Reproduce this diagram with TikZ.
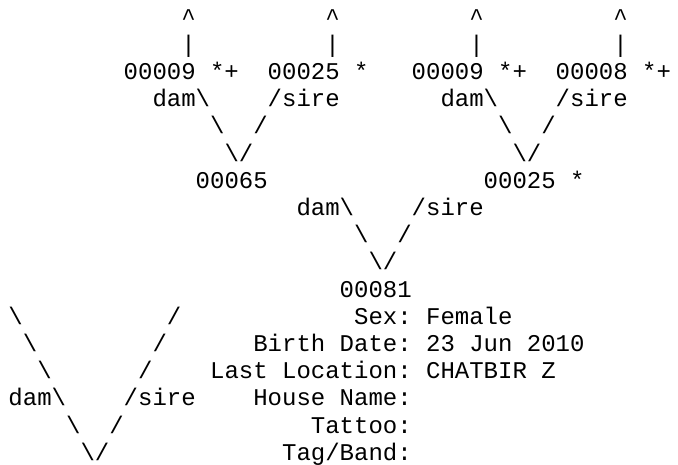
\documentclass[tikz,border=0pt]{standalone}
\usepackage{fontspec}
\newfontfamily\pedmono{Liberation Mono}
\newcommand\bs{\textbackslash}
\newcommand\gtxt[4]{\node[tx] (#1) at ({8.5pt+#2*14.4pt},{-25pt-#3*27.2pt}) {#4};}
\begin{document}
\begin{tikzpicture}[tx/.style={anchor=base west,inner sep=0pt,outer sep=0pt,text=black,font={\pedmono\fontsize{24pt}{27.2pt}\selectfont}}]
\useasboundingbox (0pt,0pt) rectangle (678pt,-464pt);
% row 0 and 1: carets and bars
\gtxt{c1}{12}{0}{\textasciicircum}
\gtxt{c2}{22}{0}{\textasciicircum}
\gtxt{c3}{32}{0}{\textasciicircum}
\gtxt{c4}{42}{0}{\textasciicircum}
\gtxt{b1}{12}{1}{|}
\gtxt{b2}{22}{1}{|}
\gtxt{b3}{32}{1}{|}
\gtxt{b4}{42}{1}{|}
% row 2: grandparents
\gtxt{g1}{8}{2}{00009 *+}
\gtxt{g2}{18}{2}{00025 *}
\gtxt{g3}{28}{2}{00009 *+}
\gtxt{g4}{38}{2}{00008 *+}
% row 3
\gtxt{d1}{10}{3}{dam\bs}
\gtxt{s1}{18}{3}{/sire}
\gtxt{d2}{30}{3}{dam\bs}
\gtxt{s2}{38}{3}{/sire}
% row 4
\gtxt{l4a}{14}{4}{\bs}
\gtxt{r4a}{17}{4}{/}
\gtxt{l4b}{34}{4}{\bs}
\gtxt{r4b}{37}{4}{/}
% row 5
\gtxt{v5a}{15}{5}{\bs/}
\gtxt{v5b}{35}{5}{\bs/}
% row 6: parents
\gtxt{p1}{13}{6}{00065}
\gtxt{p2}{33}{6}{00025 *}
% row 7
\gtxt{d3}{20}{7}{dam\bs}
\gtxt{s3}{28}{7}{/sire}
% row 8
\gtxt{l8}{24}{8}{\bs}
\gtxt{r8}{27}{8}{/}
% row 9
\gtxt{v9}{25}{9}{\bs/}
% row 10: subject
\gtxt{subj}{23}{10}{00081}
% bottom-left V
\gtxt{bl11}{0}{11}{\bs}
\gtxt{br11}{11}{11}{/}
\gtxt{bl12}{1}{12}{\bs}
\gtxt{br12}{10}{12}{/}
\gtxt{bl13}{2}{13}{\bs}
\gtxt{br13}{9}{13}{/}
\gtxt{bd14}{0}{14}{dam\bs}
\gtxt{bs14}{8}{14}{/sire}
\gtxt{bl15}{4}{15}{\bs}
\gtxt{br15}{7}{15}{/}
\gtxt{bv16}{5}{16}{\bs/}
% info block
\gtxt{k1}{24}{11}{Sex:}
\gtxt{v1}{29}{11}{Female}
\gtxt{k2}{17}{12}{Birth Date:}
\gtxt{v2}{29}{12}{23 Jun 2010}
\gtxt{k3}{14}{13}{Last Location:}
\gtxt{v3}{29}{13}{CHATBIR Z}
\gtxt{k4}{17}{14}{House Name:}
\gtxt{k5}{21}{15}{Tattoo:}
\gtxt{k6}{19}{16}{Tag/Band:}
\end{tikzpicture}
\end{document}
